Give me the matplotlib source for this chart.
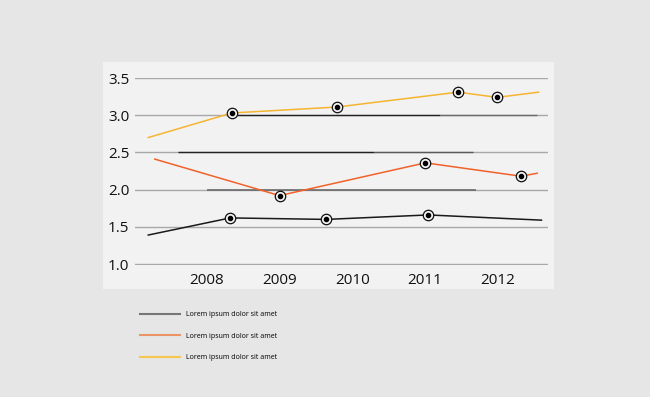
import matplotlib.pyplot as plt
from matplotlib.lines import Line2D
from matplotlib.patches import Rectangle

# data (x in years, y in values)
years = [2008, 2009, 2010, 2011, 2012]
black_x = [2007.19, 2008.32, 2009.64, 2011.05, 2012.61]
black_y = [1.39, 1.62, 1.60, 1.66, 1.59]
orange_x = [2007.28, 2009.00, 2011.01, 2012.33, 2012.55]
orange_y = [2.41, 1.92, 2.36, 2.18, 2.22]
yellow_x = [2007.19, 2008.34, 2009.79, 2011.46, 2012.00, 2012.57]
yellow_y = [2.70, 3.03, 3.11, 3.31, 3.24, 3.31]
# which points get a marker
black_marks = [1, 2, 3]
orange_marks = [1, 2, 3]
yellow_marks = [1, 2, 3, 4]
legend_labels = ['Lorem ipsum dolor sit amet'] * 3

plt.rcParams['font.family'] = ['Open Sans', 'DejaVu Sans']

fig = plt.figure(figsize=(6.5, 3.97), dpi=100)
fig.patch.set_facecolor('#e6e6e6')

# light panel behind the plot
fig.add_artist(Rectangle((0.1585, 0.272), 0.694, 0.571, transform=fig.transFigure,
                         facecolor='#f2f2f2', edgecolor='none', zorder=0))

ax = fig.add_axes([0.2077, 0.333, 0.6354, 0.4705])
ax.set_facecolor('none')
ax.set_xlim(2007.007, 2012.70)
ax.set_ylim(0.99, 3.5)

yt = [1.0, 1.5, 2.0, 2.5, 3.0, 3.5]
ax.set_yticks(yt)
ax.set_yticklabels(['%.1f' % v for v in yt])
ax.set_xticks(years)
ax.set_xticklabels([str(y) for y in years])
ax.grid(axis='y', color='#a8a8a8', linewidth=1)
ax.set_axisbelow(True)
ax.tick_params(length=0, labelsize=11, colors='#111111')
ax.tick_params(axis='y', pad=4)
ax.tick_params(axis='x', pad=6)
for s in ax.spines.values():
    s.set_visible(False)

# darker stretches on some grid lines, as in the original design
ax.hlines(3.0, 2008.34, 2011.21, color='#222222', linewidth=1, zorder=1)
ax.hlines(3.0, 2011.21, 2012.55, color='#6a6a6a', linewidth=1, zorder=1)
ax.hlines(2.5, 2007.60, 2010.30, color='#222222', linewidth=1, zorder=1)
ax.hlines(2.5, 2010.30, 2011.67, color='#5a5a5a', linewidth=1, zorder=1)
ax.hlines(2.0, 2008.0, 2011.71, color='#6a6a6a', linewidth=1.2, zorder=1)

series = [
    (black_x, black_y, black_marks, '#1a1a1a'),
    (orange_x, orange_y, orange_marks, '#f0622a'),
    (yellow_x, yellow_y, yellow_marks, '#f5b531'),
]
for xs, ys, marks, col in series:
    ax.plot(xs, ys, color=col, linewidth=1.1, zorder=3, clip_on=False)
    mx = [xs[i] for i in marks]
    my = [ys[i] for i in marks]
    ax.plot(mx, my, linestyle='none', marker='o', markersize=7.5,
            markerfacecolor='#f5f5f5', markeredgecolor='#111111',
            markeredgewidth=0.9, zorder=4, clip_on=False)
    ax.plot(mx, my, linestyle='none', marker='o', markersize=3.0,
            color='#000000', zorder=5, clip_on=False)

handles = [Line2D([], [], color=c, linewidth=1.5) for c in ['#777777', '#ea9468', '#f7c64c']]
fig.legend(handles, legend_labels, loc='upper left', bbox_to_anchor=(0.211, 0.223),
           frameon=False, fontsize=5, handlelength=5.76, handletextpad=0.85,
           labelspacing=2.1, borderaxespad=0)

fig.savefig('out.png', dpi=100, facecolor=fig.get_facecolor())
